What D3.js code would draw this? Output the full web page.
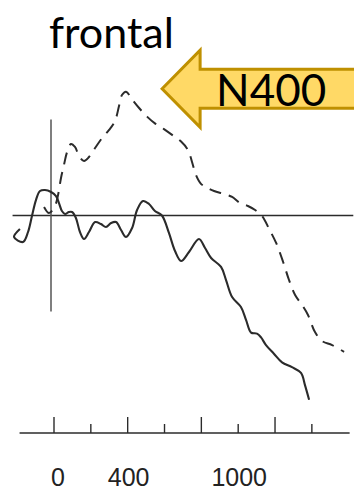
<!DOCTYPE html>
<html>
<head>
<meta charset="utf-8">
<script src="https://cdn.jsdelivr.net/npm/d3@7"></script>
<style>
  html, body { margin: 0; padding: 0; background: #fff; }
  svg { display: block; }
</style>
</head>
<body>
<svg id="chart" width="354" height="492"></svg>
<script>
// Frontal ERP waveforms: time in ms, amplitude in µV (negative plotted up)
const solidTime = [-185, -217, -168, -141, -119, -98, -76, -49, -16, 11, 27, 43, 60, 81, 98, 119, 141, 163, 190, 223, 255, 282, 310, 337, 364, 391, 424, 451, 483, 516, 548, 586, 624, 657, 690, 733, 787, 820, 853, 907, 934, 967, 1015, 1043, 1070, 1102, 1124, 1151, 1194, 1238, 1292, 1341, 1363, 1385];
const solidAmp  = [1.4, 2.24, 2.76, 1.72, 0, -1.61, -2.55, -2.66, -2.45, -2.03, -1.3, -0.47, -0.16, -0.36, -0.36, 0.26, 1.72, 2.45, 1.72, 0.68, 0.89, 1.2, 0.78, 0.68, 1.51, 2.24, 1.3, -0.57, -1.51, -1.2, -0.47, 0, 1.82, 3.7, 4.74, 3.8, 2.45, 3.39, 4.43, 5.36, 6.72, 8.49, 9.53, 10.9, 12.2, 12.3, 12.7, 13.5, 14.4, 15.3, 15.8, 16.4, 17.7, 19.2];

const dashedTime = [-54, -27, 5, 22, 38, 54, 71, 92, 114, 136, 163, 190, 223, 261, 299, 331, 353, 369, 391, 424, 462, 505, 548, 597, 641, 690, 728, 749, 771, 798, 831, 869, 923, 967, 1010, 1053, 1092, 1130, 1168, 1206, 1244, 1276, 1309, 1347, 1379, 1417, 1455, 1510, 1575];
const dashedAmp  = [-0.89, -0.26, -0.99, -2.14, -3.91, -5.26, -6.61, -7.45, -7.14, -6.2, -5.68, -6.09, -7.03, -8.07, -8.91, -9.84, -11.4, -12.55, -12.9, -12.1, -11.2, -10.3, -9.6, -9.0, -8.4, -7.7, -6.8, -5.6, -4.2, -3.3, -2.9, -2.55, -2.24, -1.93, -1.3, -0.99, -0.57, 0.05, 1.4, 2.86, 4.84, 6.72, 8.28, 9.32, 10.36, 12.14, 13.07, 13.5, 14.2];

// Time axis ticks and labels
const majorTicks = [0, 400, 800, 1200];
const minorTicks = [200, 600, 1000, 1400];
const tickLabels = [0, 400, 1000];

// Extents of the reference lines
const baselineSpan = [-225, 1625];
const onsetAmpSpan = [-10, 10];
const timeAxisSpan = [-187, 1605];

const title = "frontal";
const componentLabel = "N400";
const arrowTip = { time: 587, amp: -13.2 };

const svg = d3.select("#chart");
const ink = "#2b2b2b";

const x = d3.scaleLinear().domain([0, 1600]).range([54, 348.7]);
const y = d3.scaleLinear().domain([-10, 10]).range([119.5, 311.5]);

// Title
svg.append("text")
  .attr("x", 49).attr("y", 48)
  .attr("font-family", "Lato, 'Open Sans', sans-serif")
  .attr("font-size", 43)
  .attr("fill", "#000")
  .text(title);

// Zero baseline
svg.append("line")
  .attr("x1", x(baselineSpan[0])).attr("x2", x(baselineSpan[1]))
  .attr("y1", y(0)).attr("y2", y(0))
  .attr("stroke", ink).attr("stroke-width", 1.6);

// Stimulus onset line
svg.append("line")
  .attr("x1", x(0) - 3).attr("x2", x(0) - 3)
  .attr("y1", y(onsetAmpSpan[0])).attr("y2", y(onsetAmpSpan[1]))
  .attr("stroke", "#555").attr("stroke-width", 1.5);

const line = d3.line()
  .x(d => x(d[0]))
  .y(d => y(d[1]))
  .curve(d3.curveCatmullRom.alpha(0.5));

svg.append("path")
  .datum(d3.zip(dashedTime, dashedAmp))
  .attr("d", line)
  .attr("fill", "none")
  .attr("stroke", ink)
  .attr("stroke-width", 2)
  .attr("stroke-dasharray", "12,8");

svg.append("path")
  .datum(d3.zip(solidTime, solidAmp))
  .attr("d", line)
  .attr("fill", "none")
  .attr("stroke", ink)
  .attr("stroke-width", 2.1);

// Time axis
const axisY = 433;
svg.append("line")
  .attr("x1", x(timeAxisSpan[0])).attr("x2", x(timeAxisSpan[1]))
  .attr("y1", axisY).attr("y2", axisY)
  .attr("stroke", ink).attr("stroke-width", 1.5);

svg.selectAll(".major").data(majorTicks).join("line")
  .attr("x1", d => x(d)).attr("x2", d => x(d))
  .attr("y1", axisY).attr("y2", axisY - 16)
  .attr("stroke", ink).attr("stroke-width", 1.4);

svg.selectAll(".minor").data(minorTicks).join("line")
  .attr("x1", d => x(d)).attr("x2", d => x(d))
  .attr("y1", axisY).attr("y2", axisY - 9)
  .attr("stroke", ink).attr("stroke-width", 1.4);

svg.selectAll(".tlabel").data(tickLabels).join("text")
  .attr("x", d => x(d) + (d === 0 ? 4 : 1))
  .attr("y", 486)
  .attr("text-anchor", "middle")
  .attr("font-family", "'Liberation Sans', Arial, sans-serif")
  .attr("font-size", 25)
  .attr("fill", "#222")
  .text(d => d);

// N400 arrow annotation
const tx = x(arrowTip.time), ty = y(arrowTip.amp);
const headLen = 38, headHalf = 38.5, shaftHalf = 19.5, shaftEnd = 360;
const arrowPts = [
  [tx, ty],
  [tx + headLen, ty - headHalf],
  [tx + headLen, ty - shaftHalf],
  [shaftEnd, ty - shaftHalf],
  [shaftEnd, ty + shaftHalf],
  [tx + headLen, ty + shaftHalf],
  [tx + headLen, ty + headHalf]
];
svg.append("polygon")
  .attr("points", arrowPts.map(p => p.join(",")).join(" "))
  .attr("fill", "#FFD966")
  .attr("stroke", "#BF9000")
  .attr("stroke-width", 3)
  .attr("stroke-linejoin", "miter");

svg.append("text")
  .attr("x", tx + 54).attr("y", ty + 17)
  .attr("font-family", "Lato, 'Open Sans', sans-serif")
  .attr("font-size", 44)
  .attr("fill", "#000")
  .text(componentLabel);
</script>
</body>
</html>
